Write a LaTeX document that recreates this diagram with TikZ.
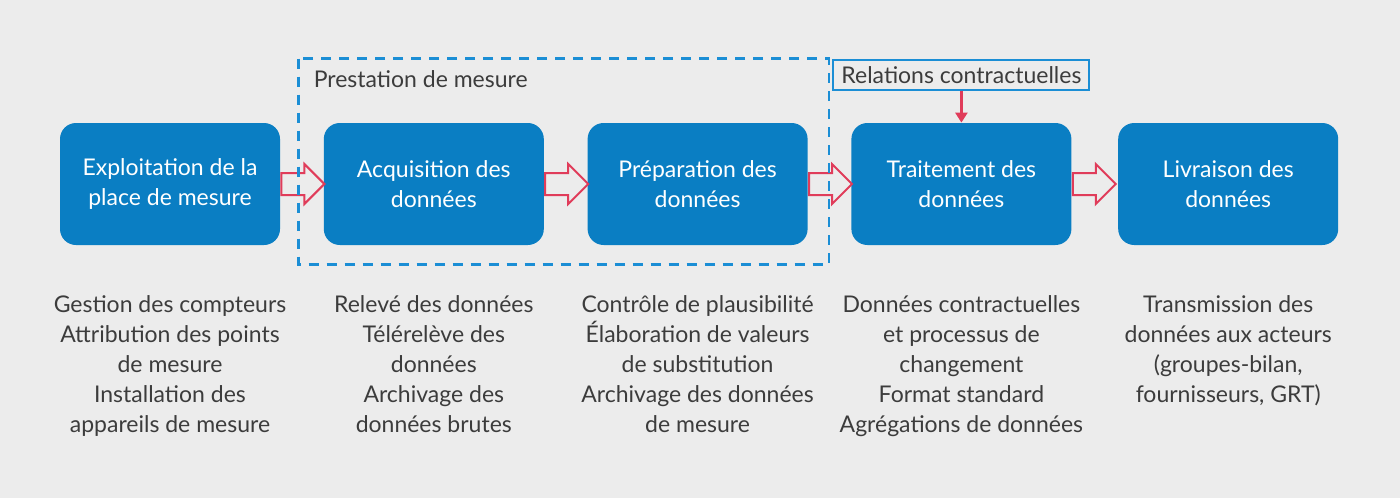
\documentclass[tikz,border=0pt]{standalone}
\usepackage{fontspec}
\setmainfont{Lato}
\usepackage{tikz}
\usetikzlibrary{arrows.meta, shapes.arrows, positioning, calc}
\definecolor{bgrey}{HTML}{ECECEC}
\definecolor{stepblue}{HTML}{0A7EC3}
\definecolor{dashblue}{HTML}{1B8ED5}
\definecolor{arrred}{HTML}{E03C5A}
\definecolor{txtgrey}{HTML}{3C3C3C}

\begin{document}
\begin{tikzpicture}[x=0.5pt, y=0.5pt,
  stepbox/.style={rectangle, fill=stepblue, rounded corners=8pt, text=white,
              minimum width=110pt, minimum height=61pt, align=center,
              font=\fontsize{11.5}{15}\selectfont},
  note/.style={text=txtgrey, align=center, anchor=north, inner sep=0pt,
              font=\fontsize{11.5}{15}\selectfont},
  hollow/.style={single arrow, draw=arrred, line width=1pt, fill=bgrey,
              minimum height=21.5pt, minimum width=19pt, inner xsep=0pt,
              inner ysep=5pt, single arrow head extend=4.5pt, anchor=tail},
  redarr/.style={-{Triangle[length=5pt, width=6pt]}, line width=1.5pt, color=arrred},
  dashbox/.style={draw=dashblue, line width=1.2pt, dash pattern=on 5pt off 4pt}
]
  \fill[bgrey] (0,0) rectangle (1400,-498);
  \useasboundingbox (0,0) rectangle (1400,-498);

  \node[stepbox] (expl) at (170,-184) {Exploitation de la\\place de mesure};
  \node[stepbox] (acq)   [right=21.5pt of expl]  {Acquisition des\\données};
  \node[stepbox] (prep)  [right=21.5pt of acq]   {Préparation des\\données};
  \node[stepbox] (trait) [right=21.5pt of prep]  {Traitement des\\données};
  \node[stepbox] (livr)  [right=23pt of trait] {Livraison des\\données};

  % fleches creuses entre les etapes
  \node[hollow] (h1) at (expl.east) {};
  \node[hollow] (h2) at (acq.east) {};
  \node[hollow] (h3) at (prep.east) {};
  \node[hollow] (h4) at (trait.east) {};

  % prestation de mesure
  \draw[dashbox] ($(acq.north west)+(-25,64)$) rectangle ($(prep.south east)+(21,-19)$);
  \node[text=txtgrey, anchor=west, inner sep=0pt, font=\fontsize{11.5}{15}\selectfont]
    (prest) at ($(acq.north west)+(-10,43)$) {Prestation de mesure};

  \node[draw=dashblue, line width=1pt, text=txtgrey, inner xsep=4pt, inner ysep=3pt,
        font=\fontsize{11.5}{15}\selectfont] (rel) [above=16pt of trait] {Relations contractuelles};
  \draw[redarr] (rel) -- (trait);

  \node[note] (n1) [below=25pt of expl]  {Gestion des compteurs\\Attribution des points\\de mesure\\Installation des\\appareils de mesure};
  \node[note] (n2) [below=25pt of acq]   {Relevé des données\\Télérelève des\\données\\Archivage des\\données brutes};
  \node[note] (n3) [below=25pt of prep]  {Contrôle de plausibilité\\Élaboration de valeurs\\de substitution\\Archivage des données\\de mesure};
  \node[note] (n4) [below=25pt of trait] {Données contractuelles\\et processus de\\changement\\Format standard\\Agrégations de données};
  \node[note] (n5) [below=25pt of livr]  {Transmission des\\données aux acteurs\\(groupes-bilan,\\fournisseurs, GRT)};
\end{tikzpicture}
\end{document}
